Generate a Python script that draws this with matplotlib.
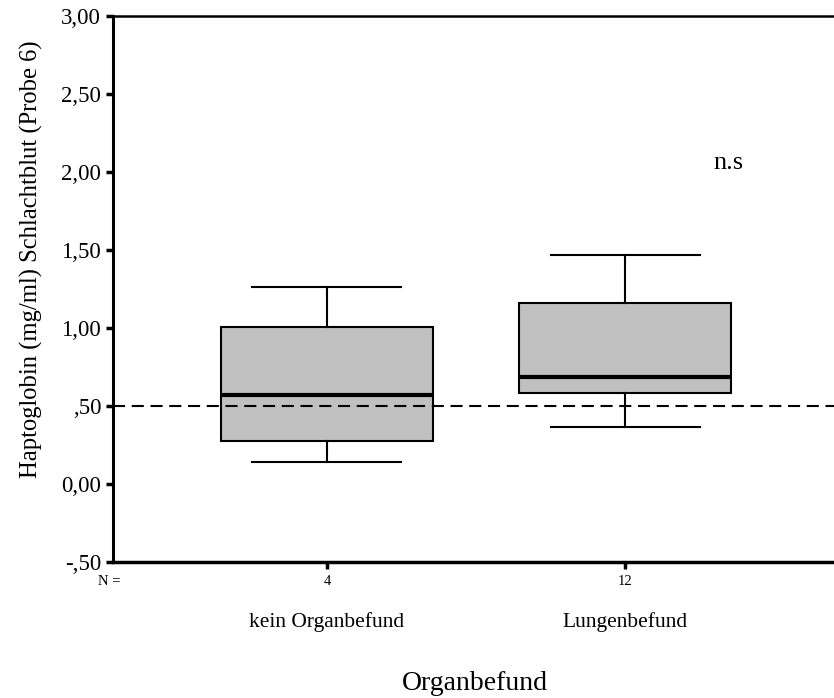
import matplotlib
matplotlib.use("Agg")
import matplotlib.pyplot as plt

plt.rcParams['font.family'] = ['Liberation Serif', 'DejaVu Serif']

# Data
groups = ["kein Organbefund", "Lungenbefund"]
n_counts = ["4", "12"]
whisker_low = [0.143, 0.363]
q1 = [0.276, 0.581]
median = [0.569, 0.688]
q3 = [1.004, 1.158]
whisker_high = [1.265, 1.466]

ref_value = 0.5
y_ticks = [-0.5, 0.0, 0.5, 1.0, 1.5, 2.0, 2.5, 3.0]
y_ticklabels = ["-,50", "0,00", ",50", "1,00", "1,50", "2,00", "2,50", "3,00"]

stats = []
for i in range(len(groups)):
    stats.append({"whislo": whisker_low[i], "q1": q1[i], "med": median[i],
                  "q3": q3[i], "whishi": whisker_high[i], "fliers": []})

fig = plt.figure(figsize=(8.34, 6.98), dpi=100)
ax = fig.add_axes([113 / 834, 1 - 562 / 698, 726 / 834, 546 / 698])

ax.bxp(stats, positions=[1, 2], widths=0.71, capwidths=0.5, patch_artist=True,
       showfliers=False,
       boxprops=dict(facecolor='#c0c0c0', edgecolor='black', linewidth=1.5),
       medianprops=dict(color='black', linewidth=3),
       whiskerprops=dict(color='black', linewidth=1.5),
       capprops=dict(color='black', linewidth=1.5), zorder=2)

# reference line drawn over the boxes
ax.axhline(ref_value, color='black', lw=1.5, dashes=(5.8, 3.2), zorder=4)

ax.set_xlim(0.282, 2.718)
ax.set_ylim(-0.5, 3.0)

ax.set_yticks(y_ticks)
ax.set_yticklabels(y_ticklabels, fontsize=16.5)
ax.set_xticks([1, 2])
ax.set_xticklabels([])
ax.tick_params(axis='both', direction='out', length=5, width=2.5, color='black')

ax.spines['left'].set_linewidth(2.2)
ax.spines['bottom'].set_linewidth(2.5)
ax.spines['top'].set_linewidth(1.8)
ax.spines['right'].set_visible(False)

tr = ax.get_xaxis_transform()
ax.text(0.268, -0.035, "N =", transform=tr, ha='center', va='center', fontsize=10.5, clip_on=False)
for i in range(len(groups)):
    ax.text(i + 1, -0.035, n_counts[i], transform=tr, ha='center', va='center', fontsize=10.5)
    ax.text(i + 1, -0.110, groups[i], transform=tr, ha='center', va='center', fontsize=15.5)

ax.text(2.346, 2.058, "n.s", ha='center', va='center', fontsize=19)

fig.text(475 / 834, 1 - 683 / 698, "Organbefund", ha='center', va='center', fontsize=20)
fig.text(31 / 834, 1 - 259 / 698, "Haptoglobin (mg/ml) Schlachtblut (Probe 6)",
         ha='center', va='center', rotation=90, fontsize=17.7)

fig.savefig("out.png", dpi=100)
